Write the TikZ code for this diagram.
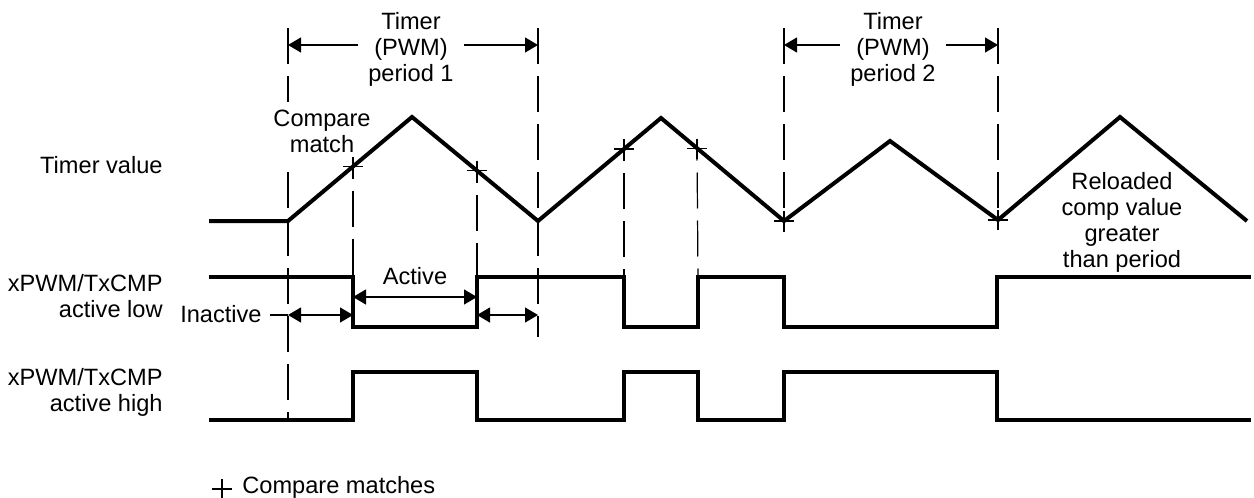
\documentclass[tikz,border=0pt]{standalone}
\usepackage{fontspec}
\setmainfont{Liberation Sans}
\usetikzlibrary{arrows.meta,calc}
\begin{document}
\begin{tikzpicture}[x=0.5pt,y=-0.5pt,
  wave/.style={line width=2pt,line join=miter},
  sig/.style={line width=1.8pt,line join=miter},
  thinline/.style={line width=0.6pt},
  guide/.style={line width=0.6pt,dash pattern=on 18pt off 6pt},
  dimone/.style={line width=0.6pt,-{Triangle[length=6.5pt,width=7.5pt]}},
  dimboth/.style={line width=0.6pt,{Triangle[length=6.5pt,width=7.5pt]}-{Triangle[length=6.5pt,width=7.5pt]}},
  lbl/.style={inner sep=0pt,font=\fontsize{11.8pt}{13pt}\selectfont},
  ]
\useasboundingbox (0,0) rectangle (1254,498);

% timer waveform
\coordinate (t0) at (209,221);
\coordinate (t1) at (288,221);
\coordinate (p1) at (412,117);
\coordinate (v1) at (538,221);
\coordinate (p2) at (661,118);
\coordinate (v2) at (784,221);
\coordinate (p3) at (890,141);
\coordinate (v3) at (998,220);
\coordinate (p4) at (1120,117);
\coordinate (t9) at (1247,221);

% guide lines
\coordinate (g1a) at (288,28);  \coordinate (g1b) at (288,418);
\coordinate (g2a) at (538,28);  \coordinate (g2b) at (538,337);
\coordinate (g3a) at (784,28);  \coordinate (g3b) at (784,232);
\coordinate (g4a) at (998,28);  \coordinate (g4b) at (998,230);
\draw[guide] (g1a) -- (g1b);
\draw[guide] (g2a) -- (g2b);
\draw[guide] (g3a) -- (g3b);
\draw[guide] (g4a) -- (g4b);

% compare match label (blanks the guide line behind it)
\node[lbl,align=center,fill=white,inner ysep=4pt,inner xsep=1pt] (cm) at (322,131.5) {Compare\\match};

\draw[wave] (t0)--(t1)--(p1)--(v1)--(p2)--(v2)--(p3)--(v3)--(p4)--(t9);

% output signals
\draw[sig] (209,277) -| (353,327) -| (477,277) -| (624,327) -| (698,277) -| (784,327) -| (997,277) -- (1251,277);
\draw[sig] (209,420) -| (353,372) -| (477,420) -| (624,372) -| (698,420) -| (784,372) -| (997,420) -- (1251,420);

% compare match crosses
\coordinate (c1) at (353,166.5);
\coordinate (c2) at (477,170.5);
\coordinate (c3) at (624,149);
\coordinate (c4) at (697,148.5);
\coordinate (c5) at (784,221);
\coordinate (c6) at (998,220);
\foreach \c in {c1,c2,c3,c4,c5,c6}{
  \draw[thinline] (\c) +(-10,0) -- +(10,0) (\c) +(0,-10) -- +(0,10);
}
\coordinate (m1) at (353,277);
\coordinate (m2) at (477,277);
\coordinate (m3) at (624,277);
\coordinate (m4) at (698,277);
\draw[guide,dash phase=-12pt] (c1) -- (m1);
\draw[guide,dash phase=-12pt] (c2) -- (m2);
\draw[guide,dash phase=-12pt] (c3) -- (m3);
\draw[guide,dash phase=-12pt] (c4) -- (m4);

% period labels and arrows
\coordinate (a1) at (288,45);
\coordinate (a2) at (538,45);
\coordinate (a3) at (784,45);
\coordinate (a4) at (998,45);
\node[lbl,align=center] (per1) at (411,49) {Timer\\(PWM)\\period 1};
\node[lbl,align=center] (per2) at (893,49) {Timer\\(PWM)\\period 2};
\draw[dimone] ($(per1.west |- a1)+(-10,0)$) -- (a1);
\draw[dimone] ($(per1.east |- a2)+(10,0)$) -- (a2);
\draw[dimone] ($(per2.west |- a3)+(-10,0)$) -- (a3);
\draw[dimone] ($(per2.east |- a4)+(10,0)$) -- (a4);

% active / inactive
\node[lbl,anchor=base] (act) at (415,284) {Active};
\coordinate (e1) at (353,297);
\coordinate (e2) at (477,297);
\draw[dimboth] (e1) -- (e2);
\node[lbl,anchor=base east] (inact) at (262,322) {Inactive};
\coordinate (lead) at (270,315);
\coordinate (ia1) at (288,315);
\coordinate (ia2) at (353,315);
\coordinate (ib1) at (477,315);
\coordinate (ib2) at (538,315);
\draw[thinline] (lead) -- (ia1);
\draw[dimboth] (ia1) -- (ia2);
\draw[dimboth] (ib1) -- (ib2);

% texts
\node[lbl,anchor=base east] (tv) at (163,173) {Timer value};
\node[lbl,align=right,anchor=east] (al) at (163,296.5) {xPWM/TxCMP\\active low};
\node[lbl,align=right,anchor=east] (ah) at (163,392) {xPWM/TxCMP\\active high};
\node[lbl,align=center] (rl) at (1122,222) {Reloaded\\comp value\\greater\\than period};

% legend
\coordinate (lg) at (222,489);
\draw[thinline] (lg) +(-10,0) -- +(10,0) (lg) +(0,-10) -- +(0,10);
\node[lbl,anchor=base west] (lgt) at (242,493) {Compare matches};
\end{tikzpicture}
\end{document}
